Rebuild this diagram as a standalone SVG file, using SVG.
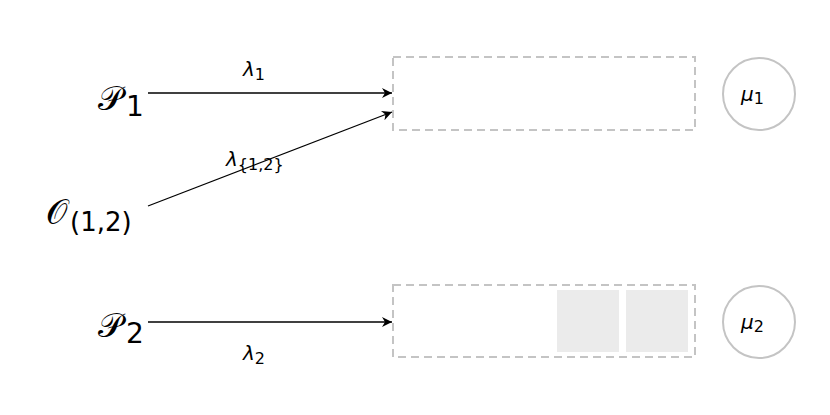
<svg xmlns="http://www.w3.org/2000/svg" width="830" height="415" viewBox="0 0 830 415">
<defs><marker id="a" viewBox="0 0 10 10" refX="10" refY="5" markerWidth="10" markerHeight="10" markerUnits="userSpaceOnUse" orient="auto"><path d="M0,0 L10,5 L0,10 L3,5 z" fill="#000"/></marker></defs>
<style>
.q{fill:none;stroke:#c4c4c4;stroke-width:2;stroke-dasharray:8,5}
.s{fill:none;stroke:#c4c4c4;stroke-width:2}
.b{fill:#ebebeb}
.l{stroke:#000;stroke-width:1.3;fill:none;marker-end:url(#a)}
text{font-family:"DejaVu Sans","Noto Sans",sans-serif;fill:#000}
.big{font-size:34px}
.m{font-size:20px;font-style:italic}
.sub{font-size:16px;font-style:normal}
</style>
<rect width="830" height="415" fill="#fff"/>
<g id="P1"><text x="98" y="110" class="big">𝒫<tspan font-size="28" dx="3" dy="6">1</tspan></text></g>
<g id="O12"><text x="46" y="224" class="big">𝒪<tspan font-size="26" dx="3" dy="7">(1,2)</tspan></text></g>
<g id="P2"><text x="98" y="337" class="big">𝒫<tspan font-size="28" dx="3" dy="6">2</tspan></text></g>
<g id="queue1"><rect x="393" y="57" width="302" height="73" class="q"/></g>
<g id="queue2"><rect x="393" y="285" width="302" height="72" class="q"/><rect x="557" y="290" width="62" height="62" class="b"/><rect x="626" y="290" width="62" height="62" class="b"/></g>
<g id="server1"><circle cx="759" cy="94" r="36" class="s"/><text x="741" y="101" class="m">μ<tspan class="sub" dy="3">1</tspan></text></g>
<g id="server2"><circle cx="759" cy="322" r="36" class="s"/><text x="741" y="329" class="m">μ<tspan class="sub" dy="3">2</tspan></text></g>
<g id="connectors">
<line x1="148" y1="93" x2="392" y2="93" class="l"/>
<line x1="148" y1="206" x2="392" y2="112" class="l"/>
<line x1="148" y1="322" x2="392" y2="322" class="l"/>
<text x="243" y="76" class="m">λ<tspan class="sub" dy="4">1</tspan></text>
<text x="226" y="166" class="m">λ<tspan class="sub" dy="4">{1,2}</tspan></text>
<text x="243" y="360" class="m">λ<tspan class="sub" dy="4">2</tspan></text>
</g>
</svg>
